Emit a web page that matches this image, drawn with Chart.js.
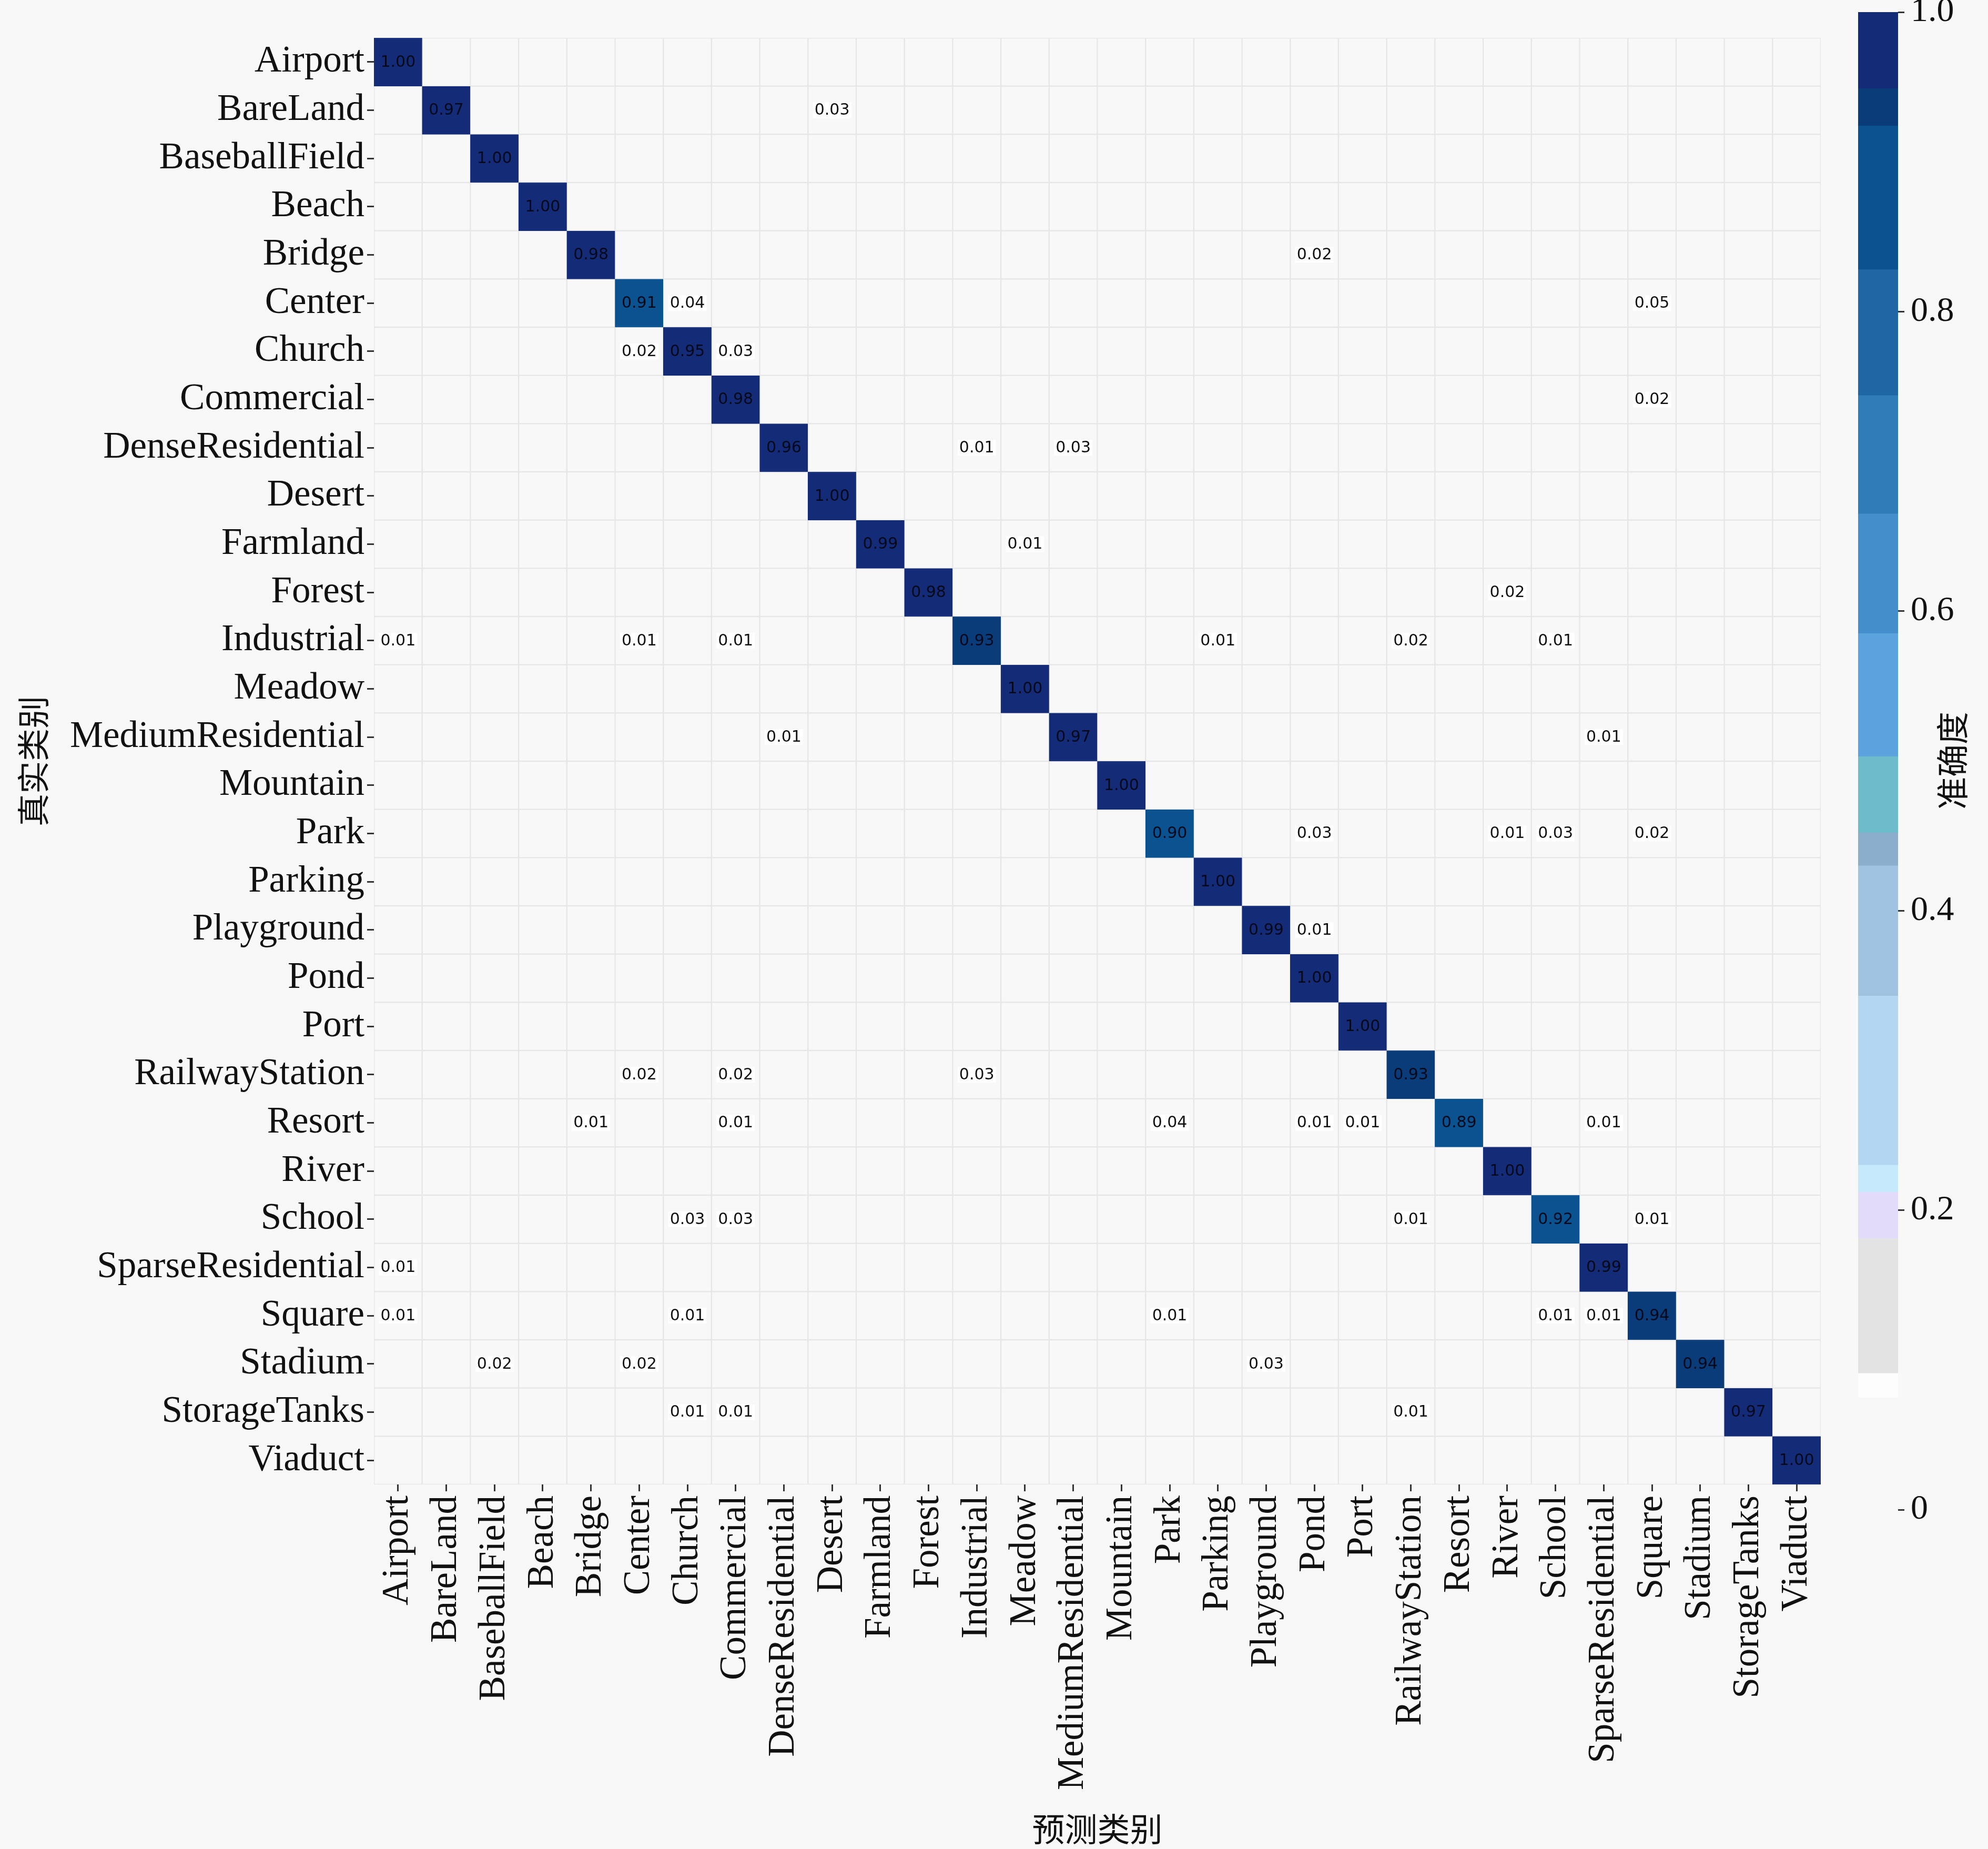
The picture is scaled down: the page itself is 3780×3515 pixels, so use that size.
<!DOCTYPE html>
<html>
<head>
<meta charset="utf-8">
<script src="https://cdn.jsdelivr.net/npm/chart.js@4.4.1/dist/chart.umd.min.js"></script>
<style>
    html, body { margin: 0; padding: 0; background: #f8f8f8; }
    #wrap { position: relative; width: 3780px; height: 3515px; }
    #main { position: absolute; left: 0; top: 0; }
    #cbar { position: absolute; left: 3380px; top: 0; }
</style>
</head>
<body>
<div id="wrap">
    <canvas id="main" width="3780" height="3515"></canvas>
    <canvas id="cbar" width="400" height="3515"></canvas>
</div>
<script>
// 類別 (真實 / 預測 共用)
const classes = ['Airport', 'BareLand', 'BaseballField', 'Beach', 'Bridge', 'Center', 'Church',
    'Commercial', 'DenseResidential', 'Desert', 'Farmland', 'Forest', 'Industrial', 'Meadow',
    'MediumResidential', 'Mountain', 'Park', 'Parking', 'Playground', 'Pond', 'Port',
    'RailwayStation', 'Resort', 'River', 'School', 'SparseResidential', 'Square', 'Stadium',
    'StorageTanks', 'Viaduct'];

// 對角線準確度
const diagValues = [1.00, 0.97, 1.00, 1.00, 0.98, 0.91, 0.95, 0.98, 0.96, 1.00, 0.99, 0.98, 0.93, 1.00, 0.97,
    1.00, 0.90, 1.00, 0.99, 1.00, 1.00, 0.93, 0.89, 1.00, 0.92, 0.99, 0.94, 0.94, 0.97, 1.00];

// 非對角線 (真實列, 預測欄, 值)
const offRows   = [1, 4, 5, 5, 6, 6, 7, 8, 8, 10, 11, 12, 12, 12, 12, 12, 12, 14, 14, 16, 16, 16, 16, 18,
    21, 21, 21, 22, 22, 22, 22, 22, 22, 24, 24, 24, 24, 25, 26, 26, 26, 26, 26, 27, 27, 27, 28, 28, 28];
const offCols   = [9, 19, 6, 26, 5, 7, 26, 12, 14, 13, 23, 0, 5, 7, 17, 21, 24, 8, 25, 19, 23, 24, 26, 19,
    5, 7, 12, 4, 7, 16, 19, 20, 25, 6, 7, 21, 26, 0, 0, 6, 16, 24, 25, 2, 5, 18, 6, 7, 21];
const offValues = [0.03, 0.02, 0.04, 0.05, 0.02, 0.03, 0.02, 0.01, 0.03, 0.01, 0.02, 0.01, 0.01, 0.01, 0.01, 0.02, 0.01, 0.01, 0.01, 0.03, 0.01, 0.03, 0.02, 0.01,
    0.02, 0.02, 0.03, 0.01, 0.01, 0.04, 0.01, 0.01, 0.01, 0.03, 0.03, 0.01, 0.01, 0.01, 0.01, 0.01, 0.01, 0.01, 0.01, 0.02, 0.02, 0.03, 0.01, 0.01, 0.01];

// 色條分段
const cbStops  = [0.075, 0.091, 0.181, 0.212, 0.230, 0.343, 0.430, 0.452, 0.503, 0.585, 0.665, 0.744, 0.828, 0.924, 0.949, 1.0];
const cbColors = ['#fdfdfd', '#e3e3e3', '#e2dcfa', '#c7e9fc', '#b3d7f3', '#9fc3e0', '#8aaecc', '#6dbccb',
    '#5aa3de', '#448fcb', '#307cb9', '#1f67a4', '#0b5290', '#0a3c7a', '#142c78'];
const cbTicks = [0, 0.2, 0.4, 0.6, 0.8, 1.0];

const bgColor = '#f8f8f8';
const gridColor = '#e6e6e6';
const fontSerif = '"Liberation Serif", "DejaVu Serif", serif';
const fontCJK = '"Noto Sans CJK SC", sans-serif';

// 組成混淆矩陣
const matrix = classes.map((_, i) => classes.map((_, j) => (i === j ? diagValues[i] : 0)));
offRows.forEach((r, k) => { matrix[r][offCols[k]] = offValues[k]; });

function colorFor(v) {
    if (v < cbStops[0]) return bgColor;
    for (let k = 0; k < cbColors.length; k++) {
        if (v <= cbStops[k + 1]) return cbColors[k];
    }
    return cbColors[cbColors.length - 1];
}

// 每一列一個資料集，每格是浮動長條 [i, i+1]
const rowDatasets = matrix.map((row, i) => ({
    label: classes[i],
    data: row.map(() => [i, i + 1]),
    backgroundColor: row.map(v => colorFor(v)),
    borderColor: row.map(v => (v < cbStops[0] ? gridColor : colorFor(v))),
    borderWidth: 1.5,
    borderSkipped: false,
    grouped: false,
    barPercentage: 1,
    categoryPercentage: 1
}));

// 格內數字
const cellText = {
    id: 'cellText',
    afterDatasetsDraw(chart) {
        const { ctx, scales: { x, y } } = chart;
        ctx.save();
        ctx.font = '30px "DejaVu Sans"';
        ctx.textAlign = 'center';
        ctx.textBaseline = 'middle';
        matrix.forEach((row, i) => row.forEach((v, j) => {
            if (!v) return;
            const px = x.getPixelForValue(j);
            const py = y.getPixelForValue(i + 0.5);
            const label = v.toFixed(2);
            if (v < cbStops[0]) {
                const w = ctx.measureText(label).width;
                ctx.fillStyle = '#ffffff';
                ctx.fillRect(px - w / 2 - 3, py - 15, w + 6, 30);
                ctx.fillStyle = '#111111';
            } else {
                ctx.fillStyle = '#03081a';
            }
            ctx.fillText(label, px, py + 1);
        }));
        ctx.restore();
    }
};

const tickGrid = {
    display: true,
    offset: false,
    drawOnChartArea: false,
    drawTicks: true,
    tickLength: 13,
    tickColor: '#333333',
    tickWidth: 3
};

new Chart(document.getElementById('main'), {
    type: 'bar',
    data: { labels: classes, datasets: rowDatasets },
    options: {
        responsive: false,
        animation: false,
        devicePixelRatio: 1,
        events: [],
        layout: { padding: { top: 72, right: 318, bottom: 0, left: 0 } },
        plugins: { legend: { display: false }, tooltip: { enabled: false } },
        scales: {
            x: {
                type: 'category',
                offset: true,
                grid: tickGrid,
                border: { display: false },
                ticks: {
                    autoSkip: false, maxRotation: 90, minRotation: 90, padding: 8,
                    color: '#111111', font: { family: fontSerif, size: 71 }
                },
                title: {
                    display: true, text: '预测类别', color: '#111111',
                    font: { family: fontCJK, size: 62 }, padding: 0
                },
                afterFit: (s) => { s.height = 3515 - 2822; s.paddingLeft = 0; s.paddingRight = 0; }
            },
            y: {
                type: 'linear',
                min: 0, max: 30, reverse: true,
                afterBuildTicks: (s) => { s.ticks = classes.map((_, i) => ({ value: i + 0.5 })); },
                grid: tickGrid,
                border: { display: false },
                ticks: {
                    autoSkip: false, padding: 5,
                    callback: (v) => classes[Math.floor(v)],
                    color: '#111111', font: { family: fontSerif, size: 71 }
                },
                title: {
                    display: true, text: '真实类别', color: '#111111',
                    font: { family: fontCJK, size: 62 }, padding: { top: 26, bottom: 0 }
                },
                afterFit: (s) => { s.width = 711; s.paddingTop = 0; s.paddingBottom = 0; }
            }
        }
    },
    plugins: [cellText]
});

// 色條
const cbarTitle = {
    id: 'cbarTitle',
    afterDraw(chart) {
        const { ctx } = chart;
        ctx.save();
        ctx.translate(332, 1446);
        ctx.rotate(-Math.PI / 2);
        ctx.font = '62px ' + fontCJK;
        ctx.fillStyle = '#111111';
        ctx.textAlign = 'center';
        ctx.textBaseline = 'middle';
        ctx.fillText('准确度', 0, 0);
        ctx.restore();
    }
};

new Chart(document.getElementById('cbar'), {
    type: 'bar',
    data: {
        labels: [''],
        datasets: cbColors.map((c, k) => ({
            data: [[cbStops[k], cbStops[k + 1]]],
            backgroundColor: c,
            borderWidth: 0,
            grouped: false,
            barPercentage: 1,
            categoryPercentage: 1
        }))
    },
    options: {
        responsive: false,
        animation: false,
        devicePixelRatio: 1,
        events: [],
        layout: { padding: { top: 23, right: 0, bottom: 645, left: 153 } },
        plugins: { legend: { display: false }, tooltip: { enabled: false } },
        scales: {
            x: { display: false },
            y: {
                position: 'right',
                min: 0, max: 1,
                afterBuildTicks: (s) => { s.ticks = cbTicks.map(v => ({ value: v })); },
                grid: { display: true, drawOnChartArea: false, drawTicks: true, tickLength: 12, tickColor: '#333333', tickWidth: 3 },
                border: { display: false },
                ticks: {
                    padding: 12,
                    callback: (v) => (v === 0 ? '0' : v.toFixed(1)),
                    color: '#111111', font: { family: fontSerif, size: 66 }
                },
                afterFit: (s) => { s.width = 400 - 229; s.paddingTop = 0; s.paddingBottom = 0; }
            }
        }
    },
    plugins: [cbarTitle]
});
</script>
</body>
</html>
